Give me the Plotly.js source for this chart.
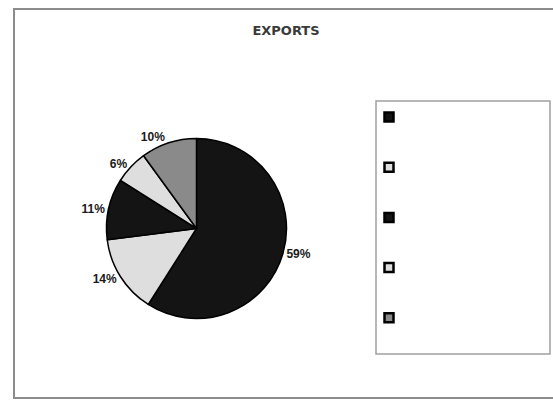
<!DOCTYPE html>
<html>
<head>
<meta charset="utf-8">
<script src="https://cdn.plot.ly/plotly-3.0.1.min.js"></script>
<style>
  html, body { margin: 0; padding: 0; background: #fff; }
  #chart { width: 553px; height: 400px; }
</style>
</head>
<body>
<div id="chart"></div>
<script>
// Export shares by category (percent)
const categories = ['A', 'B', 'C', 'D', 'E'];
const shares = [59, 14, 11, 6, 10];
const sliceColors = ['#141414', '#dedede', '#141414', '#dedede', '#8a8a8a'];
const chartTitle = 'EXPORTS';

const W = 553, H = 400;
const px = x => x / W;
const py = y => 1 - y / H;

const pie = {
  type: 'pie',
  labels: categories,
  values: shares,
  sort: false,
  direction: 'clockwise',
  rotation: 0,
  marker: { colors: sliceColors, line: { color: '#000', width: 1.5 } },
  textinfo: 'percent',
  texttemplate: '%{percent:.0%}',
  textposition: 'outside',
  outsidetextfont: { family: 'Liberation Sans, Arial, sans-serif', size: 12, color: '#1a1a1a', weight: 'bold' },
  showlegend: false,
  hoverinfo: 'none',
  domain: { x: [px(106.5), px(286.5)], y: [py(319.5), py(137.5)] }
};

// Outer frame, legend box and one key square per category
const shapes = [
  { type: 'rect', xref: 'paper', yref: 'paper', x0: px(14), x1: px(570), y0: py(398), y1: py(9),
    line: { color: '#8c8c8c', width: 2 }, fillcolor: 'rgba(0,0,0,0)', layer: 'below' },
  { type: 'rect', xref: 'paper', yref: 'paper', x0: px(376), x1: px(550), y0: py(354), y1: py(101),
    line: { color: '#a0a0a0', width: 1.5 }, fillcolor: '#fff', layer: 'below' }
];
const keyTop = 117, keyStep = 50.2, keyHalf = 4.5;
categories.forEach((c, i) => {
  const cy = keyTop + i * keyStep;
  shapes.push({
    type: 'rect', xref: 'paper', yref: 'paper',
    x0: px(389 - keyHalf), x1: px(389 + keyHalf), y0: py(cy + keyHalf), y1: py(cy - keyHalf),
    line: { color: '#000', width: 2.5 }, fillcolor: sliceColors[i]
  });
});

const layout = {
  width: W, height: H,
  margin: { l: 0, r: 0, t: 0, b: 0 },
  paper_bgcolor: '#fff',
  title: {
    text: chartTitle,
    x: px(286), xanchor: 'center',
    y: py(30), yanchor: 'middle',
    font: { family: 'DejaVu Sans, sans-serif', size: 13, color: '#3a3a3a', weight: 'bold' }
  },
  shapes: shapes,
  showlegend: false
};

Plotly.newPlot('chart', [pie], layout, { displayModeBar: false, staticPlot: true });
</script>
</body>
</html>
